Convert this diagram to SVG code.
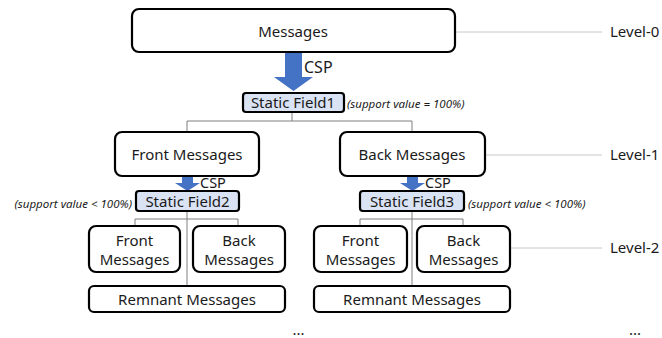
<svg xmlns="http://www.w3.org/2000/svg" width="662" height="338" viewBox="0 0 662 338">
  <style>
    text { font-family: "Noto Sans", "Open Sans", "Liberation Sans", sans-serif; fill: #1a1a1a; }
    .box { fill: #ffffff; stroke: #000000; stroke-width: 2.2; }
    .field { fill: #dae3f3; stroke: #000000; stroke-width: 2.2; }
    .label { font-size: 15px; text-anchor: middle; dominant-baseline: central; }
    .note { font-size: 11.5px; font-style: italic; dominant-baseline: central; }
    .level { font-size: 15px; dominant-baseline: central; }
    .csp { font-size: 14.5px; dominant-baseline: central; }
    .tree { stroke: #7f7f7f; stroke-width: 1; fill: none; }
    .guide { stroke: #c8c8c8; stroke-width: 1; fill: none; }
    .arrow { fill: #4472c4; }
  </style>

  <!-- connectors -->
  <g id="connectors">
    <!-- level guide lines -->
    <line class="guide" x1="455" y1="32" x2="602" y2="32"/>
    <line class="guide" x1="485" y1="155" x2="602" y2="155"/>
    <line class="guide" x1="510" y1="248" x2="602" y2="248"/>

    <!-- Static Field1 to level-1 nodes -->
    <polyline class="tree" points="292,112 292,121"/>
    <polyline class="tree" points="187,132 187,121 412,121 412,132"/>

    <!-- Static Field2 subtree -->
    <line class="tree" x1="187" y1="211" x2="187" y2="286"/>
    <polyline class="tree" points="135,226 135,219 238,219 238,226"/>

    <!-- Static Field3 subtree -->
    <line class="tree" x1="412" y1="211" x2="412" y2="286"/>
    <polyline class="tree" points="360,226 360,219 463,219 463,226"/>

    <!-- CSP block arrows -->
    <polygon class="arrow" points="285,53 302,53 302,77 313,77 293.5,91 274,77 285,77"/>
    <polygon class="arrow" points="182,177 193,177 193,183 200,183 187.5,191 175,183 182,183"/>
    <polygon class="arrow" points="407,177 418,177 418,183 425,183 412.5,191 400,183 407,183"/>
    <text class="csp" x="304" y="67" style="font-size:16px">CSP</text>
    <text class="csp" x="200" y="182">CSP</text>
    <text class="csp" x="425" y="182">CSP</text>
  </g>

  <!-- level-0 -->
  <g id="messages">
    <rect class="box" x="132" y="9" width="323" height="43" rx="7"/>
    <text class="label" x="293" y="31">Messages</text>
  </g>
  <g id="static-field1">
    <rect class="field" x="243" y="93" width="101" height="19" rx="3"/>
    <text class="label" x="293" y="102">Static Field1</text>
    <text class="note" x="347" y="103">(support value = 100%)</text>
  </g>

  <!-- level-1 -->
  <g id="front-messages">
    <rect class="box" x="115" y="132" width="144" height="44" rx="7"/>
    <text class="label" x="187" y="154">Front Messages</text>
  </g>
  <g id="back-messages">
    <rect class="box" x="340" y="132" width="145" height="44" rx="7"/>
    <text class="label" x="412" y="154">Back Messages</text>
  </g>
  <g id="static-field2">
    <rect class="field" x="136" y="191" width="103" height="20" rx="3"/>
    <text class="label" x="187.5" y="200.5">Static Field2</text>
    <text class="note" x="132" y="203" text-anchor="end">(support value &lt; 100%)</text>
  </g>
  <g id="static-field3">
    <rect class="field" x="360" y="191" width="104" height="20" rx="3"/>
    <text class="label" x="412" y="200.5">Static Field3</text>
    <text class="note" x="468" y="203">(support value &lt; 100%)</text>
  </g>

  <!-- level-2 under Front Messages -->
  <g id="front-front">
    <rect class="box" x="89" y="226" width="91" height="46" rx="7"/>
    <text class="label" x="134.5" y="240">Front</text>
    <text class="label" x="134.5" y="259">Messages</text>
  </g>
  <g id="front-back">
    <rect class="box" x="193" y="226" width="92" height="46" rx="7"/>
    <text class="label" x="239" y="240">Back</text>
    <text class="label" x="239" y="259">Messages</text>
  </g>
  <g id="front-remnant">
    <rect class="box" x="89" y="286" width="196" height="26" rx="5"/>
    <text class="label" x="187" y="299">Remnant Messages</text>
  </g>

  <!-- level-2 under Back Messages -->
  <g id="back-front">
    <rect class="box" x="314" y="226" width="93" height="46" rx="7"/>
    <text class="label" x="360.5" y="240">Front</text>
    <text class="label" x="360.5" y="259">Messages</text>
  </g>
  <g id="back-back">
    <rect class="box" x="417" y="226" width="93" height="46" rx="7"/>
    <text class="label" x="463.5" y="240">Back</text>
    <text class="label" x="463.5" y="259">Messages</text>
  </g>
  <g id="back-remnant">
    <rect class="box" x="314" y="286" width="196" height="26" rx="5"/>
    <text class="label" x="412" y="299">Remnant Messages</text>
  </g>

  <!-- level captions and continuation marks -->
  <g id="levels">
    <text class="level" x="610" y="31">Level-0</text>
    <text class="level" x="610" y="154">Level-1</text>
    <text class="level" x="610" y="247">Level-2</text>
    <text class="label" x="298.5" y="329">...</text>
    <text class="label" x="635" y="329">...</text>
  </g>
</svg>
